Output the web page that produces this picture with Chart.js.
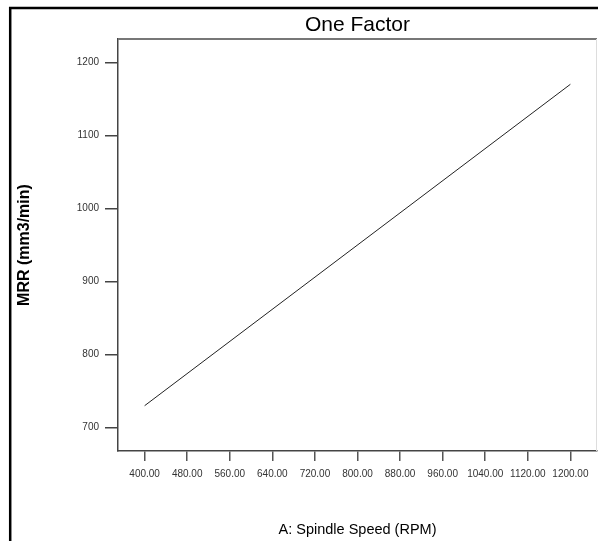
<!DOCTYPE html>
<html>
<head>
<meta charset="utf-8">
<title>One Factor</title>
<script src="https://cdn.jsdelivr.net/npm/chart.js@4.4.1/dist/chart.umd.min.js"></script>
<style>
  html, body { margin: 0; padding: 0; background: #fff; }
  #wrap { width: 598px; height: 541px; }
</style>
</head>
<body>
<div id="wrap"><canvas id="mrrChart" width="598" height="541"></canvas></div>
<script>
// Data
const spindleSpeed = [400, 1200];          // A: Spindle Speed (RPM)
const mrr = [730, 1170];                    // MRR (mm3/min)
const speedTicks = [400, 480, 560, 640, 720, 800, 880, 960, 1040, 1120, 1200];
const mrrTicks = [700, 800, 900, 1000, 1100, 1200];

const regular = "'Liberation Sans', Arial, sans-serif";

// Outer frame and the top/right edges of the plot box
const framePlugin = {
  id: 'frame',
  afterDraw(chart) {
    const { ctx, chartArea: a } = chart;
    ctx.save();
    // plot box top + right
    ctx.strokeStyle = '#777';
    ctx.lineWidth = 2;
    ctx.beginPath();
    ctx.moveTo(a.left, a.top);
    ctx.lineTo(a.right, a.top);
    ctx.stroke();
    ctx.strokeStyle = '#ddd';
    ctx.lineWidth = 1;
    ctx.beginPath();
    ctx.moveTo(a.right - 0.5, a.top);
    ctx.lineTo(a.right - 0.5, a.bottom);
    ctx.stroke();
    // outer frame
    ctx.strokeStyle = '#000';
    ctx.lineWidth = 2.5;
    ctx.beginPath();
    ctx.moveTo(10.2, chart.height);
    ctx.lineTo(10.2, 8);
    ctx.lineTo(chart.width, 8);
    ctx.stroke();
    ctx.restore();
  }
};

const ctx = document.getElementById('mrrChart').getContext('2d');

const mrrChart = new Chart(ctx, {
  type: 'line',
  data: {
    datasets: [{
      label: 'MRR',
      data: spindleSpeed.map((s, i) => ({ x: s, y: mrr[i] })),
      borderColor: '#222',
      borderWidth: 1,
      pointRadius: 0,
      fill: false,
      tension: 0
    }]
  },
  options: {
    responsive: false,
    animation: false,
    layout: { padding: { left: 0, top: 0, right: 1, bottom: 0 } },
    plugins: {
      legend: { display: false },
      tooltip: { enabled: false },
      title: {
        display: true,
        text: 'One Factor',
        fullSize: false,
        color: '#000',
        font: { family: regular, size: 21, weight: 'normal' },
        padding: { top: 13, bottom: 0.8 }
      }
    },
    scales: {
      x: {
        type: 'linear',
        min: 350,
        max: 1250,
        afterFit: s => { s.height = 90; },
        afterBuildTicks: s => { s.ticks = speedTicks.map(v => ({ value: v })); },
        grid: { drawOnChartArea: false, drawTicks: true, tickLength: 10, color: '#555', lineWidth: 1.5 },
        border: { display: true, color: '#444', width: 1.5 },
        ticks: {
          color: '#333',
          padding: 7,
          maxRotation: 0,
          autoSkip: false,
          font: { family: regular, size: 10 },
          callback: v => Number(v).toFixed(2)
        },
        title: {
          display: true,
          text: 'A: Spindle Speed (RPM)',
          color: '#000',
          font: { family: regular, size: 14.5 },
          padding: { top: 0, bottom: 2 }
        }
      },
      y: {
        min: 668,
        max: 1232,
        afterFit: s => { s.width = 118; },
        afterBuildTicks: s => { s.ticks = mrrTicks.map(v => ({ value: v })); },
        grid: { drawOnChartArea: false, drawTicks: true, tickLength: 13, color: '#444', lineWidth: 1.5 },
        border: { display: true, color: '#444', width: 1.5 },
        ticks: {
          color: '#333',
          padding: 6,
          font: { family: regular, size: 10 },
          callback: v => String(v)
        },
        title: {
          display: true,
          text: 'MRR (mm3/min)',
          color: '#000',
          font: { family: regular, size: 16, weight: 'bold' },
          padding: { top: 15, bottom: 0 }
        }
      }
    }
  },
  plugins: [framePlugin]
});
</script>
</body>
</html>
